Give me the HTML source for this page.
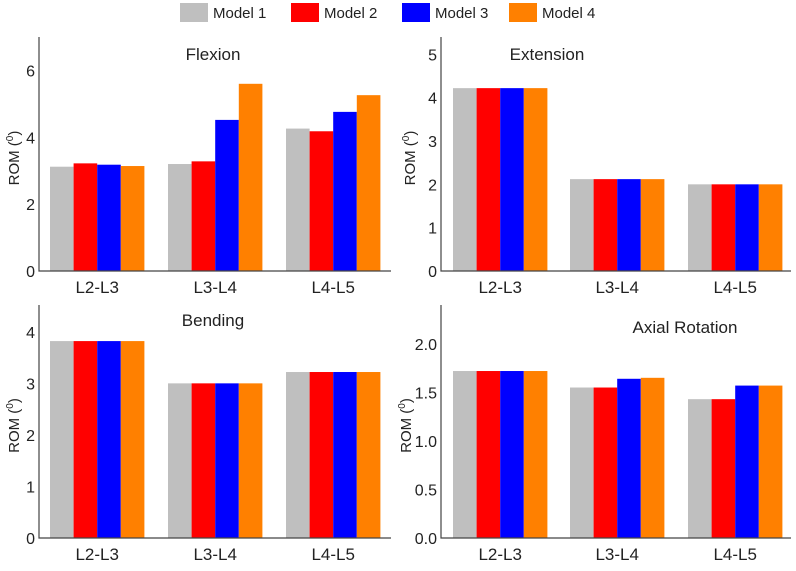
<!DOCTYPE html>
<html><head><meta charset="utf-8"><style>
body{margin:0;background:#fff;font-family:"Liberation Sans",Arial,sans-serif}
svg text{font-family:"Liberation Sans",Arial,sans-serif;fill:#222}
</style></head><body>
<svg id="c" width="796" height="566" viewBox="0 0 796 566"></svg>
<script>
const categories=["L2-L3","L3-L4","L4-L5"];
const seriesNames=["Model 1","Model 2","Model 3","Model 4"];
const colors=["#bfbfbf","#ff0000","#0000ff","#ff8000"];
const flexion=[[3.12,3.2,4.26],[3.22,3.28,4.18],[3.18,4.52,4.76],[3.14,5.6,5.26]];
const extension=[[4.22,2.12,2.0],[4.22,2.12,2.0],[4.22,2.12,2.0],[4.22,2.12,2.0]];
const bending=[[3.82,3.0,3.22],[3.82,3.0,3.22],[3.82,3.0,3.22],[3.82,3.0,3.22]];
const axial=[[1.72,1.55,1.43],[1.72,1.55,1.43],[1.72,1.64,1.57],[1.72,1.65,1.57]];
const flexTicks=[0,2,4,6];
const extTicks=[0,1,2,3,4,5];
const bendTicks=[0,1,2,3,4];
const axialTicks=["0.0","0.5","1.0","1.5","2.0"];
const svg=document.getElementById('c');
const NS="http://www.w3.org/2000/svg";
function mk(t,a,p){const e=document.createElementNS(NS,t);for(const k in a)e.setAttribute(k,a[k]);(p||svg).appendChild(e);return e;}
function panel(name,title,titleX,titleY,data,ticks,ymax,x0,x1,yTop,yBase,groups,labOff){
  const g=mk('g',{});
  
  
  const y=v=>yBase-(v/ymax)*(yBase-yTop);
  categories.forEach((c,ci)=>{
    const gx=groups[ci],bw=23.6;
    data.forEach((s,si)=>{
      const r=mk('rect',{x:gx+si*bw,y:y(s[ci]),width:bw,height:yBase-y(s[ci]),fill:colors[si]},g);
      
      
    });
    const t=mk('text',{x:gx+2*bw,y:yBase+22,'text-anchor':'middle','font-size':17},g);
    t.textContent=c;
    
    
  });
  const ax=mk('path',{d:`M${x0} ${yTop}V${yBase}H${x1}`,stroke:'#444','stroke-width':1.2,fill:'none'},g);
  
  
  ticks.forEach(tk=>{
    const t=mk('text',{x:x0-4,y:y(parseFloat(tk))+6,'text-anchor':'end','font-size':16},g);
    t.textContent=tk;
    
    
  });
  const tt=mk('text',{x:titleX,y:titleY,'text-anchor':'middle','font-size':17},g);
  tt.textContent=title;
  
  
  const yl=mk('text',{transform:`translate(${x0-labOff} ${(yTop+yBase)/2+4}) rotate(-90)`,'text-anchor':'middle','font-size':15},g);
  yl.innerHTML='ROM (<tspan font-size="10" dy="-6">0</tspan><tspan dy="6">)</tspan>';
  
  
}
panel('flexion','Flexion',213,60,flexion,flexTicks,7.0,39,391,37,271,[50,168,286],20);
panel('extension','Extension',547,60,extension,extTicks,5.4,441,791,37,271,[453,570,688],26);
panel('bending','Bending',213,326,bending,bendTicks,4.52,39,391,305,538,[50,168,286],20);
panel('axial','Axial Rotation',685,333,axial,axialTicks,2.4,441,791,305,538,[453,570,688],30);
const lx=[180,291,402,509];
seriesNames.forEach((n,i)=>{
  const lg=mk('g',{});
  
  
  mk('rect',{x:lx[i],y:3,width:28,height:19,fill:colors[i]},lg);
  const t=mk('text',{x:lx[i]+33,y:18,'font-size':15},lg);
  t.textContent=n;
});
</script>
</body></html>
